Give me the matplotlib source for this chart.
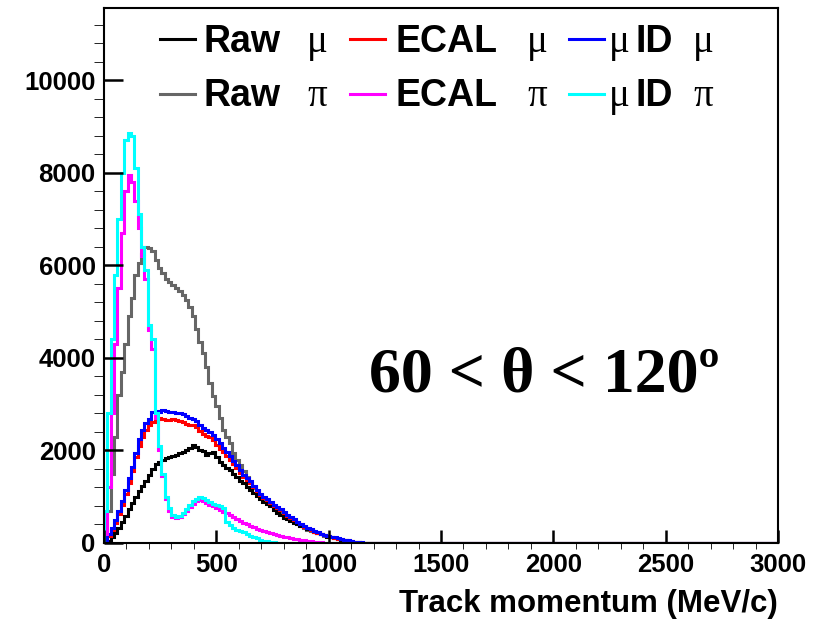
import numpy as np
import matplotlib
matplotlib.use('Agg')
import matplotlib.pyplot as plt
from matplotlib.lines import Line2D

W, H = 819, 622

# 15 MeV bins up to 1200 MeV, then one empty bin to the end of the axis
edges = np.append(np.arange(0, 1201, 15), 3000)

raw_mu = [0, 50, 130, 220, 320, 450, 580, 740, 860, 1000,
          1130, 1230, 1350, 1480, 1600, 1710, 1740, 1790, 1830, 1850,
          1880, 1900, 1940, 1960, 2000, 2050, 2110, 2080, 2020, 1980,
          1900, 1950, 1970, 1850, 1760, 1690, 1620, 1570, 1490, 1420,
          1350, 1290, 1220, 1140, 1070, 1010, 950, 890, 850, 790,
          720, 650, 600, 550, 510, 470, 430, 400, 370, 340,
          310, 275, 240, 215, 190, 165, 140, 120, 100, 85,
          70, 55, 42, 30, 20, 12, 7, 3, 1, 0]
ecal_mu = [20, 150, 280, 430, 620, 820, 1050, 1300, 1550, 1850,
           2100, 2300, 2450, 2560, 2620, 2640, 2700, 2680, 2660, 2650,
           2690, 2660, 2640, 2620, 2580, 2560, 2540, 2500, 2420, 2350,
           2310, 2280, 2220, 2120, 2040, 1960, 1880, 1800, 1710, 1620,
           1520, 1430, 1360, 1290, 1200, 1120, 1040, 980, 920, 860,
           800, 750, 710, 650, 590, 540, 490, 445, 405, 355,
           315, 285, 245, 215, 190, 170, 150, 130, 110, 95,
           80, 68, 55, 40, 28, 18, 10, 5, 2, 0]
muid_mu = [40, 200, 330, 500, 700, 900, 1150, 1400, 1650, 1950,
           2250, 2450, 2600, 2680, 2820, 2850, 2830, 2880, 2860, 2840,
           2830, 2810, 2800, 2790, 2750, 2710, 2690, 2640, 2560, 2480,
           2440, 2400, 2340, 2240, 2150, 2060, 1960, 1880, 1780, 1680,
           1570, 1480, 1400, 1330, 1240, 1150, 1060, 1000, 940, 880,
           820, 770, 730, 670, 610, 560, 510, 460, 420, 370,
           330, 300, 260, 230, 200, 180, 160, 140, 120, 105,
           90, 75, 60, 45, 30, 20, 12, 6, 3, 0]
raw_pi = [150, 700, 1500, 2300, 3200, 3700, 4300, 4900, 5300, 5800,
          6050, 6250, 6400, 6380, 6300, 6120, 5950, 5830, 5700, 5640,
          5580, 5520, 5440, 5350, 5250, 5100, 4900, 4620, 4350, 4100,
          3800, 3450, 3180, 2950, 2700, 2450, 2280, 2150, 1950, 1800,
          1690, 1560, 1430, 1300, 1180, 1110, 1030, 960, 900, 820,
          750, 690, 640, 590, 540, 490, 450, 410, 360, 320,
          285, 260, 240, 215, 185, 160, 145, 130, 110, 90,
          72, 55, 42, 30, 20, 12, 6, 3, 1, 0]
ecal_pi = [200, 1200, 2800, 4300, 5500, 6700, 7600, 7950, 7800, 7400,
           6800, 6200, 5700, 4600, 4200, 2700, 2000, 1450, 950, 700,
           570, 540, 560, 620, 700, 780, 850, 900, 930, 910,
           860, 820, 790, 750, 710, 680, 640, 600, 560, 520,
           480, 440, 400, 370, 340, 310, 290, 260, 240, 215,
           195, 175, 155, 140, 125, 110, 95, 85, 72, 60,
           50, 40, 30, 22, 15, 10, 5, 0, 0, 0,
           0, 0, 0, 0, 0, 0, 0, 0, 0, 0]
muid_pi = [700, 2800, 4400, 5800, 7000, 8000, 8700, 8850, 8800, 8100,
           7100, 6400, 5900, 4700, 4400, 2800, 2100, 1500, 1000, 750,
           600, 560, 580, 650, 740, 830, 900, 960, 1000, 970,
           920, 880, 850, 820, 790, 760, 450, 380, 330, 290,
           270, 240, 200, 160, 130, 100, 70, 50, 35, 20,
           12, 6, 0, 0, 0, 0, 0, 0, 0, 0,
           0, 0, 0, 0, 0, 0, 0, 0, 0, 0,
           0, 0, 0, 0, 0, 0, 0, 0, 0, 0]

series = [
    (raw_pi, '#666666'),
    (raw_mu, 'black'),
    (ecal_mu, 'red'),
    (muid_mu, 'blue'),
    (ecal_pi, 'magenta'),
    (muid_pi, 'cyan'),
]

plt.rcParams['font.family'] = 'Liberation Sans'
plt.rcParams['font.weight'] = 'bold'


def fx(px):
    return px / W


def fy(py):
    return 1 - py / H


fig = plt.figure(figsize=(W / 100, H / 100), dpi=100)
ax = fig.add_axes([fx(104), fy(543), (778 - 104) / W, (543 - 8) / H])

for vals, color in series:
    ax.stairs(np.append(vals, 0), edges, color=color, lw=2.2, baseline=0)

ax.set_xlim(0, 3000)
ax.set_ylim(0, 11560)
ax.set_xticks(np.arange(0, 3001, 500))
ax.set_xticks(np.arange(0, 3001, 100), minor=True)
ax.set_yticks(np.arange(0, 10001, 2000))
ax.set_yticks(np.arange(0, 11560, 400), minor=True)
ax.tick_params(direction='in', labelsize=18.5, width=1.8, color='black')
ax.tick_params(axis='x', which='major', length=9.5, pad=7)
ax.tick_params(axis='x', which='minor', length=4)
ax.tick_params(axis='y', which='major', length=14, pad=6)
ax.tick_params(axis='y', which='minor', length=7)
for sp in ax.spines.values():
    sp.set_linewidth(1.5)

ax.set_xlabel('Track momentum (MeV/c)', loc='right', fontsize=22.5,
              fontweight='bold', labelpad=9)

# legend, built by hand: bold sans words with serif greek letters
rows = [(52, 39, [(raw_mu, 'black'), (ecal_mu, 'red'), (muid_mu, 'blue')], 'μ'),
        (106, 94, [(raw_pi, '#666666'), (ecal_pi, 'magenta'), (muid_pi, 'cyan')], 'π')]
cols = [(160, 'Raw', 203, 307), (350, 'ECAL', 395, 527), (569, 'ID', 636, 693)]
for base, ly, entries, greek in rows:
    for (x0, word, xt, xg), (_, color) in zip(cols, entries):
        fig.add_artist(Line2D([fx(x0), fx(x0 + 35)], [fy(ly), fy(ly)],
                              color=color, lw=2.2, transform=fig.transFigure))
        fig.text(fx(xt), fy(base), word, fontsize=27, fontweight='bold',
                 va='baseline', ha='left')
        fig.text(fx(xg), fy(base), greek, fontsize=28, fontweight='normal',
                 family='Liberation Serif', va='baseline', ha='left')
    fig.text(fx(609), fy(base), 'μ', fontsize=28, fontweight='normal',
             family='Liberation Serif', va='baseline', ha='left')

fig.text(fx(544), fy(392), '60 < θ < 120º', fontsize=46, fontweight='bold',
         family='Liberation Serif', va='baseline', ha='center')

fig.savefig('out.png', dpi=100)
